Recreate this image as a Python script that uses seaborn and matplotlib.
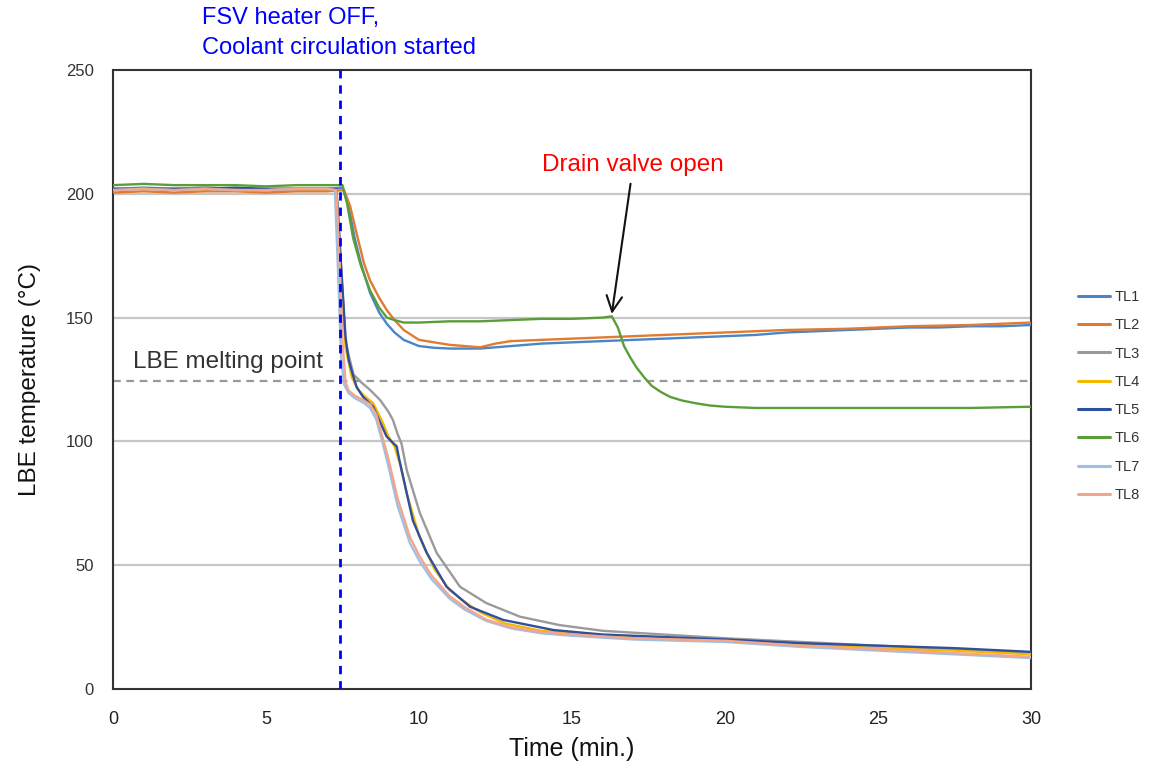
import matplotlib
matplotlib.use("Agg")
import matplotlib.pyplot as plt
import seaborn as sns
import pandas as pd

# ---------------- data ----------------
series_names = ["TL1", "TL2", "TL3", "TL4", "TL5", "TL6", "TL7", "TL8"]
series_colors = ["#4a86c5", "#e07b30", "#9a9a9a", "#f5b800",
                 "#2f4f9f", "#5a9e3a", "#9cc0e6", "#f2a68a"]

t_TL1 = [0, 1, 2, 3, 4, 5, 6, 7, 7.5, 7.7, 7.9, 8.1, 8.4, 8.7, 8.95, 9.2, 9.5,
         10.0, 10.5, 11.0, 12.0, 13.0, 14.0, 15.0, 16.0, 17.0, 18, 19, 20, 21,
         22, 23, 24, 25, 26, 27, 28, 29, 30]
T_TL1 = [202, 202.5, 202, 202.5, 202, 201.5, 202, 202, 202.5, 195, 182, 172,
         160, 152, 147.5, 144, 141, 138.5, 137.8, 137.5, 137.5, 138.5, 139.5,
         140, 140.5, 141, 141.5, 142, 142.5, 143, 144, 144.5, 145, 145.5, 146,
         146, 146.5, 146.5, 147]

t_TL2 = [0, 1, 2, 3, 4, 5, 6, 7, 7.55, 7.75, 8.0, 8.2, 8.4, 8.7, 8.95, 9.2,
         9.5, 10.0, 10.5, 11.0, 11.5, 12.0, 12.5, 13.0, 14, 15, 16, 17, 18,
         19, 20, 22, 24, 26, 28, 30]
T_TL2 = [200.5, 201, 200.5, 201, 201, 200.5, 201, 201, 201.5, 195, 182, 172,
         165, 158, 153, 149, 145, 141, 140, 139, 138.5, 138, 139.5, 140.5,
         141, 141.5, 142, 142.5, 143, 143.5, 144, 145, 145.5, 146.5, 147, 148]

t_TL3 = [0, 1, 2, 3, 4, 5, 6, 7, 7.3, 7.45, 7.6, 7.86, 8.1, 8.4, 8.73, 9.0,
         9.15, 9.3, 9.43, 9.6, 10.03, 10.58, 11.34, 12.2, 13.3, 14.6, 16, 18,
         20, 22.5, 25, 27.5, 30]
T_TL3 = [202, 202, 202, 202.5, 202, 202, 202, 202, 202, 170, 140, 127, 124,
         120.8, 116.7, 112, 108.6, 103, 99, 88.4, 71, 54.9, 41.3, 34.7, 29.2,
         25.8, 23.5, 22, 20.5, 19, 17.5, 16, 14.5]

t_TL4 = [0, 1, 2, 3, 4, 5, 6, 7, 7.3, 7.45, 7.6, 7.8, 8.0, 8.2, 8.5, 8.8, 9.0,
         9.2, 9.4, 9.6, 10.0, 10.5, 11.0, 11.4, 12.0, 12.8, 14, 15, 17, 20,
         22.5, 25, 27.5, 30]
T_TL4 = [202, 202, 201.5, 202, 202, 202, 202, 202, 202, 170, 138, 126, 121,
         118.5, 115.5, 108, 102, 98, 90, 79, 62, 48.5, 40, 36, 31, 26.5, 23.5,
         22.5, 21, 19.5, 18, 16.5, 15.5, 14]

t_TL5 = [0, 1, 2, 3, 4, 5, 6, 7, 7.3, 7.45, 7.6, 7.7, 7.8, 7.96, 8.17, 8.5,
         8.94, 9.1, 9.27, 9.35, 9.48, 9.8, 10.25, 10.9, 11.67, 12.75, 14.4, 16,
         18, 20, 22.5, 25, 27.5, 30]
T_TL5 = [202, 202, 202, 202, 202.5, 202, 202, 202, 202, 172, 142, 133, 128.5,
         122, 118, 114, 102, 100, 98, 93, 85.7, 68, 55, 41.3, 33.2, 27.9, 23.8,
         22, 21, 20, 18.5, 17.5, 16.5, 15]

t_TL6 = [0, 1, 2, 3, 4, 5, 6, 7, 7.5, 7.65, 7.85, 8.1, 8.4, 8.7, 8.95, 9.2,
         9.5, 10, 11, 12, 13, 14, 15, 16, 16.3, 16.5, 16.7, 16.9, 17.1, 17.35,
         17.6, 17.9, 18.2, 18.6, 19.0, 19.5, 20, 21, 22, 24, 26, 28, 30]
T_TL6 = [203.5, 204, 203.5, 203.5, 203.5, 203, 203.5, 203.5, 203.5, 196, 182,
         171, 161, 154, 150, 149, 148, 148, 148.5, 148.5, 149, 149.5, 149.5,
         150, 150.5, 146, 138.5, 134, 130, 126, 122.5, 120, 118, 116.5, 115.5,
         114.5, 114, 113.5, 113.5, 113.5, 113.5, 113.5, 114]

t_TL7 = [0, 1, 2, 3, 4, 5, 6, 7, 7.25, 7.35, 7.45, 7.55, 7.7, 7.9, 8.2, 8.4,
         8.6, 8.8, 9.0, 9.3, 9.7, 10.0, 10.4, 11.0, 11.5, 12.2, 13.0, 14.0, 15,
         17, 20, 22.5, 25, 27.5, 30]
T_TL7 = [201.5, 202, 201.5, 202, 201.5, 201.5, 202, 202, 201.5, 170, 135, 123,
         119.5, 117.5, 115.5, 113.5, 109, 100, 90, 74, 59, 52, 44.5, 36.5, 32,
         27.5, 24.5, 22.5, 21.5, 20, 19, 17, 15.5, 14, 12.5]

t_TL8 = [0, 1, 2, 3, 4, 5, 6, 7, 7.3, 7.4, 7.5, 7.6, 7.7, 7.9, 8.2, 8.4, 8.6,
         8.8, 9.0, 9.3, 9.7, 10.0, 10.4, 11.0, 11.5, 12.2, 13.0, 14.0, 15, 17,
         20, 22.5, 25, 27.5, 30]
T_TL8 = [201.5, 202, 201.5, 202, 201.5, 201.5, 202, 202, 201.5, 175, 140, 124,
         120.5, 118.5, 116.5, 115, 111, 102, 93, 77, 61.5, 54, 46, 37.5, 33,
         28, 25, 23, 22, 20.5, 19.5, 17.5, 16, 14.5, 13]

x_ticks = [0, 5, 10, 15, 20, 25, 30]
y_ticks = [0, 50, 100, 150, 200, 250]
grid_levels = [50, 100, 150, 200]
heater_off_time = 7.42
melting_point = 124.5
drain_open_time = 16.3
drain_open_temp = 151.5

# ---------------- build long table ----------------
t_all = [t_TL1, t_TL2, t_TL3, t_TL4, t_TL5, t_TL6, t_TL7, t_TL8]
T_all = [T_TL1, T_TL2, T_TL3, T_TL4, T_TL5, T_TL6, T_TL7, T_TL8]
frames = []
for name, tt, TT in zip(series_names, t_all, T_all):
    frames.append(pd.DataFrame({"time": tt, "temp": TT, "series": name}))
df = pd.concat(frames, ignore_index=True)

# ---------------- plot ----------------
sns.set_style("white")
plt.rcParams["font.family"] = ["Liberation Sans", "DejaVu Sans"]

fig = plt.figure(figsize=(11.5, 7.7), dpi=100)
ax = fig.add_axes([113 / 1150, 81 / 770, 918 / 1150, 619 / 770])

for lvl in grid_levels:
    ax.axhline(lvl, color="#c6c6c6", lw=1.6, zorder=0)

sns.lineplot(data=df, x="time", y="temp", hue="series",
             hue_order=series_names, palette=series_colors,
             estimator=None, sort=False, lw=1.7, ax=ax, zorder=3)

ax.axhline(melting_point, color="#999999", lw=1.6,
           linestyle=(0, (3.5, 2.5)), zorder=2)
ax.axvline(heater_off_time, color="#0000ff", lw=2.0,
           linestyle=(0, (3, 2.5)), zorder=4)

ax.set_xlim(0, 30)
ax.set_ylim(0, 250)
ax.set_xticks(x_ticks)
ax.set_yticks(y_ticks)
ax.tick_params(axis="x", direction="in", length=6, width=1.2,
               color="#333333", labelsize=13, pad=16, labelcolor="#222222")
ax.tick_params(axis="y", length=0, labelsize=12, pad=14,
               labelcolor="#333333")
for sp in ax.spines.values():
    sp.set_visible(True)
    sp.set_color("#333333")
    sp.set_linewidth(1.5)

ax.set_xlabel("Time (min.)", fontsize=18, labelpad=6, color="#111111")
ax.set_ylabel("LBE temperature (\u00b0C)", fontsize=17.5, labelpad=18,
              color="#111111")

# annotations
fig.text(202 / 1150, 1 - 18 / 770, "FSV heater OFF,", color="#0000ff",
         fontsize=17, ha="left", va="center")
fig.text(202 / 1150, 1 - 48 / 770, "Coolant circulation started",
         color="#0000ff", fontsize=17, ha="left", va="center")

ax.annotate("Drain valve open", xy=(drain_open_time, drain_open_temp),
            xytext=(17.0, 211.5), ha="center", va="center",
            color="#ff0000", fontsize=17.5,
            arrowprops=dict(arrowstyle="->", color="#111111", lw=1.5,
                            mutation_scale=28, shrinkA=3, shrinkB=0))

ax.text(0.65, 132, "LBE melting point", color="#333333", fontsize=17.5,
        ha="left", va="center")

# legend on the right
handles, labels = ax.get_legend_handles_labels()
if ax.get_legend() is not None:
    ax.get_legend().remove()
for h in handles:
    h.set_linewidth(2.2)
fig.legend(handles, labels, loc="center left",
           bbox_to_anchor=(1078 / 1150, 1 - 396 / 770),
           frameon=False, fontsize=10.5, handlelength=2.2, handletextpad=0.3,
           labelspacing=0.98, borderpad=0, borderaxespad=0,
           labelcolor="#333333")

fig.savefig("out.png", dpi=100)
